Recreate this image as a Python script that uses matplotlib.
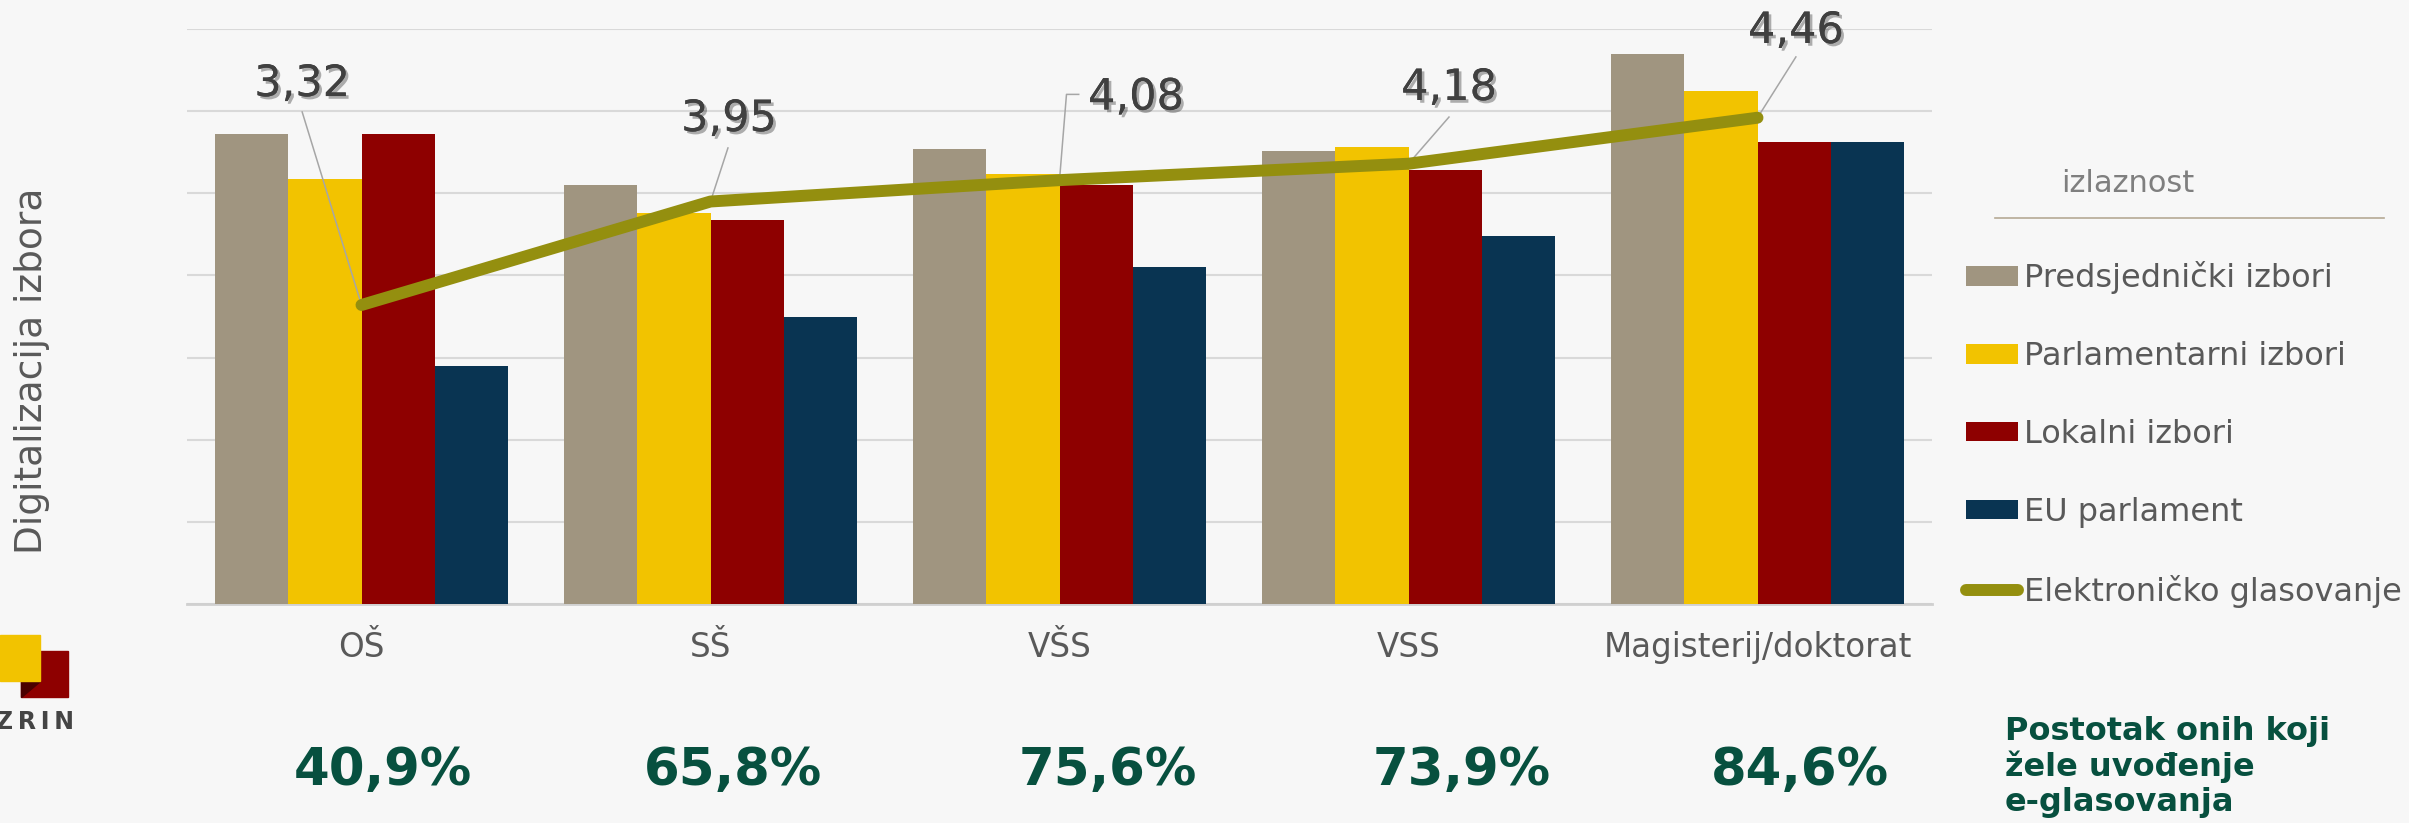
import matplotlib
matplotlib.use('Agg')
import matplotlib.pyplot as plt
import matplotlib.patheffects as pe
from matplotlib.patches import Rectangle, Patch, Polygon
from matplotlib.lines import Line2D
import numpy as np

# podaci
categories   = ['OŠ', 'SŠ', 'VŠS', 'VSS', 'Magisterij/doktorat']
predsjednicki = [57.2, 51.0, 55.4, 55.2, 67.0]
parlamentarni = [51.8, 47.6, 52.3, 55.6, 62.4]
lokalni       = [57.2, 46.8, 51.0, 52.8, 56.2]
eu_parlament  = [29.0, 35.0, 41.0, 44.8, 56.2]
e_glasovanje  = [3.32, 3.95, 4.08, 4.18, 4.46]
postotak      = [40.9, 65.8, 75.6, 73.9, 84.6]

series_names  = ['Predsjednički izbori', 'Parlamentarni izbori', 'Lokalni izbori', 'EU parlament']
series_colors = ['#A09580', '#F2C300', '#8E0000', '#093452']
line_color    = '#948F0F'
green         = '#07503F'
grey_text     = '#595959'
bg            = '#F7F7F7'

# pozicije oznaka (tekst, pocetak linije) u koordinatama sekundarne osi
label_pos  = [(-0.17, 4.665), (1.053, 4.452), (2.219, 4.583), (3.116, 4.641), (4.11, 4.988)]
leader_pts = [[(-0.17, 4.495)], [(1.05, 4.276)], [(2.055, 4.602), (2.02, 4.602)],
              [(3.116, 4.464)], [(4.11, 4.83)]]
# x polozaj postotaka ispod grafa (nisu tocno ispod kategorija)
postotak_x = [0.06, 1.064, 2.139, 3.153, 4.122]

fig = plt.figure(figsize=(24.09, 8.23), dpi=100, facecolor=bg)
ax = fig.add_axes([187 / 2409, 1 - 604 / 823, 1745 / 2409, 575 / 823])
ax.set_facecolor(bg)

x = np.arange(len(categories))
w = 0.21
offsets = [-1.5 * w, -0.5 * w, 0.5 * w, 1.5 * w]
for vals, off, col, name in zip([predsjednicki, parlamentarni, lokalni, eu_parlament],
                                offsets, series_colors, series_names):
    ax.bar(x + off, vals, width=w, color=col, label=name, zorder=3)

ax2 = ax.twinx()
ax2.set_ylim(1.5, 5.0)
ax2.set_axis_off()

ax.set_xlim(-0.5, len(categories) - 0.5)
ax.set_ylim(0, 70)
ax.set_yticks(np.arange(0, 71, 10))
ax.yaxis.grid(True, color='#D9D9D9', linewidth=1.5, zorder=0)
ax.set_axisbelow(True)
ax.tick_params(axis='y', left=False, right=False, labelleft=False, labelright=False)
ax.tick_params(axis='x', bottom=False, labelsize=23.5, labelcolor=grey_text, pad=16)
ax.set_xticks(x, categories)
for s in ['top', 'right', 'left']:
    ax.spines[s].set_visible(False)
ax.spines['bottom'].set_color('#D0D0D0')
ax.spines['bottom'].set_linewidth(2)

ax2.plot(x, e_glasovanje, color=line_color, linewidth=8.6, solid_capstyle='round',
         solid_joinstyle='round', zorder=5)

shadow = [pe.withSimplePatchShadow(offset=(2, -2), shadow_rgbFace='#000000', alpha=0.3), pe.Normal()]
for i, v in enumerate(e_glasovanje):
    pts = leader_pts[i] + [(x[i], v)]
    ax2.plot([p[0] for p in pts], [p[1] for p in pts], color='#A6A6A6', linewidth=1.1, zorder=4)
    t = ax2.text(label_pos[i][0], label_pos[i][1], f'{v:.2f}'.replace('.', ','),
                 ha='center', va='center', fontsize=31, color='#404040', zorder=6)
    t.set_path_effects(shadow)

# postotci ispod kategorija
for px, p in zip(postotak_x, postotak):
    ax.text(px, -0.29, f'{p:.1f}%'.replace('.', ','), transform=ax.get_xaxis_transform(),
            ha='center', va='center', fontsize=37, fontweight='bold', color=green)

fig.text(2005 / 2409, 1 - 716 / 823, 'Postotak onih koji\nžele uvođenje\ne-glasovanja',
         ha='left', va='top', fontsize=23, fontweight='bold', color=green, linespacing=1.15)

# os y naslov
fig.text(32 / 2409, 1 - 371 / 823, 'Digitalizacija izbora', rotation=90, ha='center', va='center',
         fontsize=27, color=grey_text, family=['Liberation Sans Narrow', 'DejaVu Sans'])

# legenda
handles = [Patch(facecolor=c, label=n) for c, n in zip(series_colors, series_names)]
handles.append(Line2D([0], [0], color=line_color, linewidth=8.6, solid_capstyle='round',
                      label='Elektroničko glasovanje'))
leg = fig.legend(handles=handles, loc='upper left', bbox_to_anchor=(1966 / 2409, 1 - 261 / 823),
                 frameon=False, fontsize=23, handlelength=1.62, handleheight=0.57,
                 handletextpad=0.2, labelspacing=1.47, borderpad=0, borderaxespad=0)
for t in leg.get_texts():
    t.set_color(grey_text)
fig.text(2128 / 2409, 1 - 183 / 823, 'izlaznost', ha='center', va='center', fontsize=22,
         color='#7F7F7F')
fig.add_artist(Line2D([1995 / 2409, 2384 / 2409], [1 - 218 / 823, 1 - 218 / 823],
                      color='#B5A995', linewidth=1.2))

# logo
W, H = 2409, 823
fig.add_artist(Rectangle((21 / W, 1 - 697 / H), 47 / W, 46 / H, color='#8E0000', transform=fig.transFigure))
fig.add_artist(Polygon([(21 / W, 1 - 697 / H), (21 / W, 1 - 681 / H), (40 / W, 1 - 681 / H)],
                       closed=True, color='#4A0000', transform=fig.transFigure))
fig.add_artist(Rectangle((0, 1 - 681 / H), 40 / W, 46 / H, color='#F2C300', transform=fig.transFigure))
fig.text(-4 / W, 1 - 722 / H, 'Z\u2009R\u2009I\u2009N', ha='left', va='center', fontsize=17,
         fontweight='bold', color='#444444')

fig.savefig('out.png', dpi=100, facecolor=bg)
